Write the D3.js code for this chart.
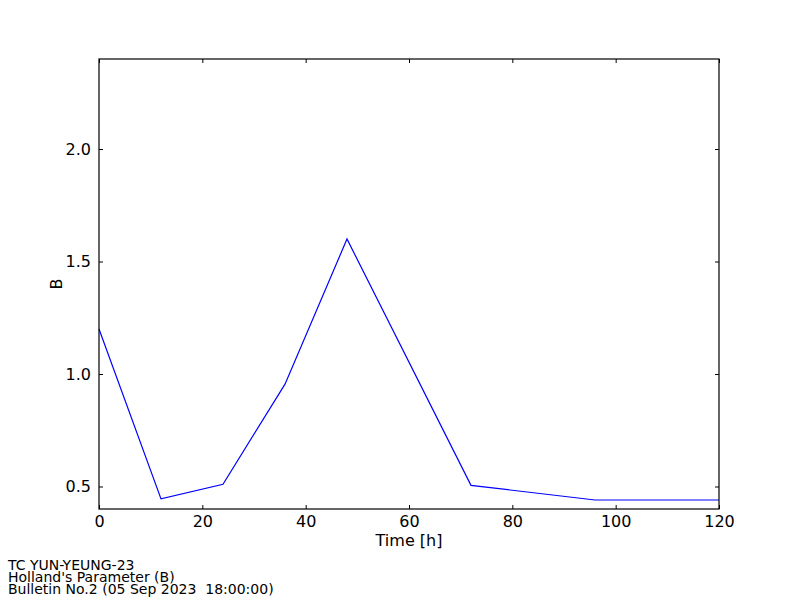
<!DOCTYPE html>
<html>
<head>
<meta charset="utf-8">
<script src="https://cdn.jsdelivr.net/npm/d3@7"></script>
<style>
  body { margin: 0; background: #fff; }
  svg { display: block; font-family: "DejaVu Sans", sans-serif; }
  .foot { white-space: pre; }
</style>
</head>
<body>
<div id="chart"></div>
<script>
// Holland's B parameter per forecast hour
var hours = [0, 12, 24, 36, 48, 72, 96, 120];
var bValues = [1.20, 0.445, 0.51, 0.955, 1.60, 0.505, 0.44, 0.44];
var xTicks = [0, 20, 40, 60, 80, 100, 120];
var yTicks = [0.5, 1.0, 1.5, 2.0];
var footer = ["TC YUN-YEUNG-23", "Holland's Parameter (B)", "Bulletin No.2 (05 Sep 2023  18:00:00)"];

var width = 800, height = 600;
var plotL = 99, plotR = 719, plotT = 59, plotB = 509;

var svg = d3.select("#chart").append("svg").attr("width", width).attr("height", height);
svg.append("rect").attr("width", width).attr("height", height).attr("fill", "#fff");

var x = d3.scaleLinear().domain([0, 120]).range([plotL, plotR]);
var y = d3.scaleLinear().domain([0.4, 2.4]).range([plotB, plotT]);

var line = d3.line().x(function(d, i){ return x(hours[i]); }).y(function(d){ return y(d); });

svg.append("path").datum(bValues)
  .attr("d", line)
  .attr("fill", "none")
  .attr("stroke", "#0000ff")
  .attr("stroke-width", 1.2);

// matplotlib-ish axes: ticks pointing inward on all four sides
function styleAxis(g) {
  g.select(".domain").remove();
  g.selectAll("line").attr("stroke", "#000");
  g.selectAll("text").attr("font-size", "16px").attr("fill", "#000")
    .attr("font-family", "DejaVu Sans, sans-serif");
}

svg.append("g").attr("transform", "translate(0," + plotB + ")")
  .call(d3.axisBottom(x).tickValues(xTicks).tickSize(-4).tickPadding(7).tickFormat(d3.format("d")))
  .call(styleAxis);
svg.append("g").attr("transform", "translate(0," + plotT + ")")
  .call(d3.axisTop(x).tickValues(xTicks).tickSize(-4).tickFormat(""))
  .call(styleAxis);
svg.append("g").attr("transform", "translate(" + plotL + ",0)")
  .call(d3.axisLeft(y).tickValues(yTicks).tickSize(-4).tickPadding(8).tickFormat(d3.format(".1f")))
  .call(styleAxis);
svg.append("g").attr("transform", "translate(" + plotR + ",0)")
  .call(d3.axisRight(y).tickValues(yTicks).tickSize(-4).tickFormat(""))
  .call(styleAxis);

svg.append("rect")
  .attr("x", plotL).attr("y", plotT)
  .attr("width", plotR - plotL).attr("height", plotB - plotT)
  .attr("fill", "none").attr("stroke", "#000").attr("stroke-width", 1.2);

svg.append("text")
  .attr("x", (plotL + plotR) / 2).attr("y", 546)
  .attr("text-anchor", "middle").attr("font-size", "16px")
  .text("Time [h]");

svg.append("text")
  .attr("transform", "translate(62," + ((plotT + plotB) / 2) + ") rotate(-90)")
  .attr("text-anchor", "middle").attr("font-size", "16px")
  .text("B");

svg.selectAll(".foot").data(footer).enter().append("text")
  .attr("class", "foot")
  .attr("x", 8)
  .attr("y", function(d, i){ return 570 + i * 12; })
  .attr("font-size", "14px")
  .text(function(d){ return d; });
</script>
</body>
</html>
